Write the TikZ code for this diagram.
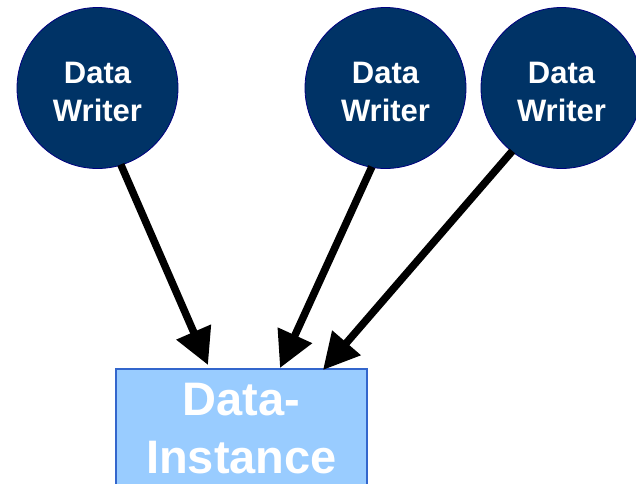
\documentclass[tikz,border=0pt]{standalone}
\usepackage{fontspec}
\setmainfont{Liberation Sans}
\usetikzlibrary{arrows.meta}
\definecolor{writerfill}{HTML}{003366}
\definecolor{writerline}{HTML}{000080}
\definecolor{instfill}{HTML}{99CCFF}
\definecolor{instline}{HTML}{3366CC}
\tikzset{
  writer/.style={circle, minimum size=161pt, inner sep=0pt, fill=writerfill,
    draw=writerline, line width=0.8pt},
  writertext/.style={text=white, align=center, inner sep=0pt, yshift=-3.5pt,
    font=\fontsize{31}{38}\selectfont\bfseries},
  instance/.style={rectangle, minimum width=251pt, minimum height=119pt, inner sep=0pt,
    fill=instfill, draw=instline, line width=2.2pt, text=white, align=center,
    font=\fontsize{47}{58}\selectfont\bfseries},
  feed/.style={line width=7.5pt, -{Triangle[length=36pt,width=36pt]}, shorten <=-1pt}
}
\begin{document}
\begin{tikzpicture}[x=1pt,y=-1pt]
  \useasboundingbox (0,0) rectangle (636,483);
  \clip (0,0) rectangle (636,483);
  \node[writer] (w1) at (97.5,88) {};
  \node[writer] (w2) at (385.5,88) {};
  \node[writer] (w3) at (561.5,88) {};
  \node[writertext] (l1) at (w1) {Data\\Writer};
  \node[writertext] (l2) at (w2) {Data\\Writer};
  \node[writertext] (l3) at (w3) {Data\\Writer};
  \node[instance] (inst) at (241.5,428.5) {Data-\\Instance};
  % arrow tips just above the top edge of the instance box
  \coordinate (t1) at (208,365);
  \coordinate (t2) at (280,368);
  \coordinate (t3) at (323,370);
  \draw[feed] (w1.-73) -- (t1);
  \draw[feed] (w2.-100) -- (t2);
  \draw[feed] (w3.-128) -- (t3);
\end{tikzpicture}
\end{document}
